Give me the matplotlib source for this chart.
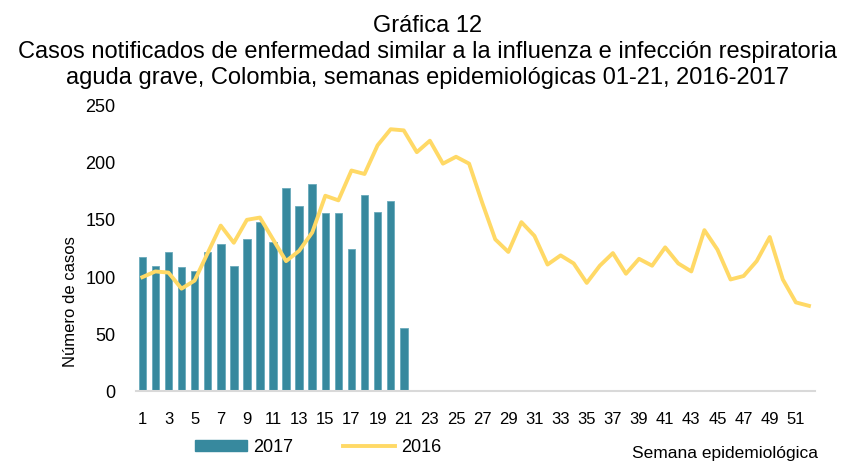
import matplotlib
matplotlib.use("Agg")
import matplotlib.pyplot as plt
from matplotlib.patches import Patch
from matplotlib.lines import Line2D

# Semanas epidemiológicas
weeks_2017 = list(range(1, 22))
cases_2017 = [117, 109, 121, 108, 104, 121, 128, 109, 132, 147, 130, 177,
              161, 180, 155, 155, 124, 171, 156, 165, 55]

weeks_2016 = list(range(1, 53))
cases_2016 = [99, 104, 103, 89, 96, 120, 144, 129, 149, 151, 132, 113,
              122, 138, 170, 166, 192, 189, 214, 228, 227, 208, 218, 198,
              204, 198, 164, 132, 121, 147, 135, 110, 118, 111, 94, 109,
              120, 102, 115, 109, 125, 111, 104, 140, 123, 97, 100, 113,
              134, 97, 77, 74]

xtick_labels = [str(w) for w in range(1, 52, 2)]

BAR_COLOR = "#37899e"
LINE_COLOR = "#ffd966"

plt.rcParams["font.family"] = ["Liberation Sans", "DejaVu Sans"]

fig = plt.figure(figsize=(8.55, 4.64), dpi=100)
ax = fig.add_axes([0.1588, 0.1558, 0.795, 0.6179])

ax.bar(weeks_2017, cases_2017, width=0.58, color=BAR_COLOR,
       edgecolor="#6aaabb", linewidth=0.6, zorder=2)
ax.plot(weeks_2016, cases_2016, color=LINE_COLOR, linewidth=2.8,
        solid_joinstyle="round", zorder=3)

ax.set_xlim(0.5, 52.5)
ax.set_ylim(0, 250)
ax.set_yticks(range(0, 251, 50))
ax.set_xticks(range(1, 52, 2))
ax.set_xticklabels(xtick_labels, fontsize=12)
for lbl in ax.get_yticklabels():
    lbl.set_fontsize(13)

for side in ["top", "right", "left"]:
    ax.spines[side].set_visible(False)
ax.spines["bottom"].set_color("#d9d9d9")
ax.spines["bottom"].set_linewidth(1.5)
ax.tick_params(axis="both", length=0, colors="black")
ax.tick_params(axis="y", pad=14.5)
ax.tick_params(axis="x", pad=14.5)

# titulo
fig.text(0.5, 0.932, "Gráfica 12", ha="center", va="baseline", fontsize=17)
fig.text(0.5, 0.874,
         "Casos notificados de enfermedad similar a la influenza e infección respiratoria",
         ha="center", va="baseline", fontsize=17)
fig.text(0.5, 0.818,
         "aguda grave, Colombia, semanas epidemiológicas 01-21, 2016-2017",
         ha="center", va="baseline", fontsize=17)

fig.text(0.082, 0.35, "Número de casos", rotation=90, ha="center",
         va="center", fontsize=12)
fig.text(0.957, 0.0129, "Semana epidemiológica", ha="right", va="baseline",
         fontsize=12.5)

handles = [Patch(facecolor=BAR_COLOR, edgecolor=BAR_COLOR),
           Line2D([0], [0], color=LINE_COLOR, linewidth=2.8)]
fig.legend(handles, ["2017", "2016"], loc="center left",
           bbox_to_anchor=(0.228, 0.0345), ncol=2, frameon=False,
           borderpad=0, borderaxespad=0,
           handlelength=2.88, handleheight=0.55, handletextpad=0.33,
           columnspacing=2.77, prop={"size": 13})

fig.savefig("out.png", dpi=100)
